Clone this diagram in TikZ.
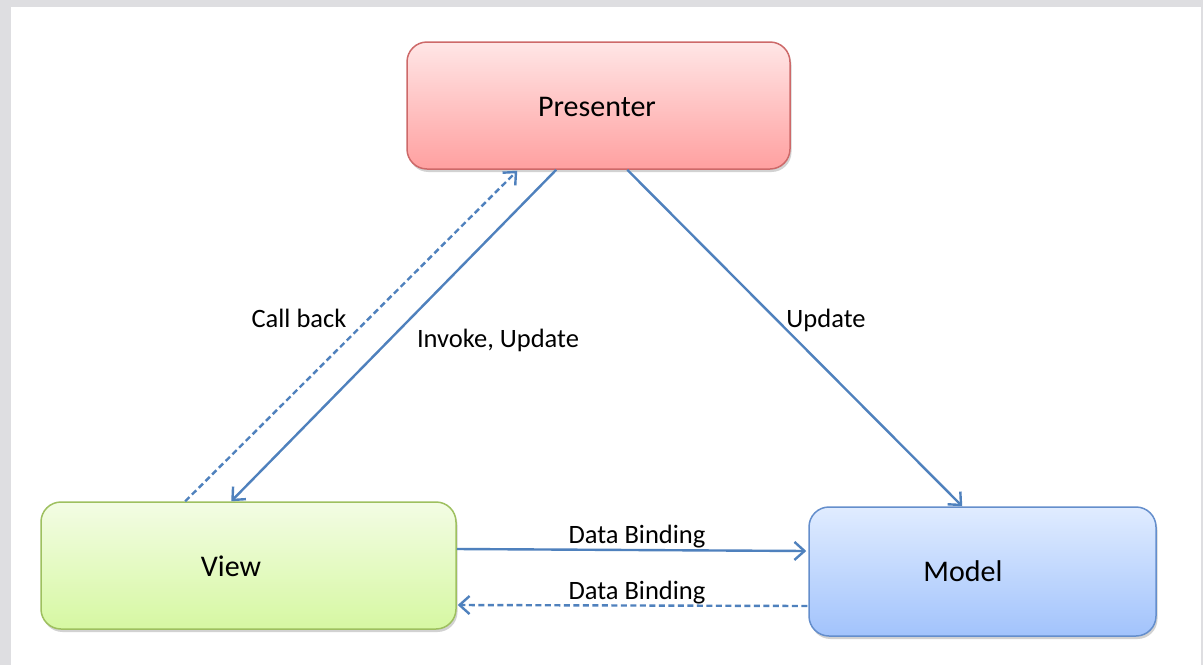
\documentclass[tikz,border=0pt]{standalone}
\usepackage{fontspec}
\setmainfont{Carlito}
\usetikzlibrary{arrows.meta,shadows,calc}
\definecolor{framegray}{RGB}{222,222,225}
\definecolor{arrowblue}{RGB}{79,129,189}
\definecolor{presTop}{RGB}{255,230,230}
\definecolor{presBot}{RGB}{255,160,160}
\definecolor{presLine}{RGB}{205,105,105}
\definecolor{viewTop}{RGB}{243,252,228}
\definecolor{viewBot}{RGB}{214,248,162}
\definecolor{viewLine}{RGB}{158,192,95}
\definecolor{modelTop}{RGB}{224,236,255}
\definecolor{modelBot}{RGB}{162,195,252}
\definecolor{modelLine}{RGB}{100,142,204}
\tikzset{
  box/.style={rounded corners=20pt, line width=1.5pt, inner sep=0pt,
    drop shadow={shadow xshift=1.5pt, shadow yshift=-3pt, opacity=0.25, fill=black!70}},
  boxtext/.style={font=\fontsize{30}{36}\selectfont, anchor=base},
  lbl/.style={font=\fontsize{26.5}{32}\selectfont, anchor=base, inner sep=0pt},
  conn/.style={draw=arrowblue, line width=2.4pt, -{Straight Barb[length=10pt,width=18pt]}},
  dconn/.style={conn, dash pattern=on 6pt off 3.5pt},
}
\begin{document}
\begin{tikzpicture}[x=1pt,y=-1pt]
\useasboundingbox (0,0) rectangle (1203,665);
\fill[framegray] (0,0) rectangle (1203,665);
\fill[white] (11,7) rectangle (1201,665);
% boxes
\node[box, draw=presLine, top color=presTop, bottom color=presBot,
  minimum width=383pt, minimum height=127pt] (P) at (598.5,105.5) {};
\node[box, draw=viewLine, top color=viewTop, bottom color=viewBot,
  minimum width=415pt, minimum height=127pt] (V) at (248.5,565.5) {};
\node[box, draw=modelLine, top color=modelTop, bottom color=modelBot,
  minimum width=347pt, minimum height=129pt] (M) at (982.5,571.5) {};
\node[boxtext] (Pt) at (597,116) {Presenter};
\node[boxtext] (Vt) at (231,576) {View};
\node[boxtext] (Mt) at (963,581) {Model};
% connector end points on the box borders
\coordinate (cbA) at ($(V.north west)+(145,0)$);
\coordinate (cbB) at ($(P.south west)+(111,1)$);
\coordinate (ivA) at ($(P.south west)+(150,0)$);
\coordinate (ivB) at ($(V.north west)+(191,0)$);
\coordinate (upA) at ($(P.south west)+(221,0)$);
\coordinate (upB) at ($(M.north west)+(154,0)$);
\coordinate (dbA) at ($(V.east)+(0,-16.5)$);
\coordinate (dbB) at ($(M.west)+(-2,-20.5)$);
\coordinate (dbC) at ($(M.west)+(-1,34.5)$);
\coordinate (dbD) at ($(V.east)+(1,39.5)$);
% connectors
\draw[dconn] (cbA) -- (cbB);
\draw[conn] (ivA) -- (ivB);
\draw[conn] (upA) -- (upB);
\draw[conn] (dbA) -- (dbB);
\draw[dconn] (dbC) -- (dbD);
% labels
\node[lbl] (l1) at (299,327) {Call back};
\node[lbl] (l2) at (498,347) {Invoke, Update};
\node[lbl] (l3) at (826,327) {Update};
\node[lbl] (l4) at (637,543) {Data Binding};
\node[lbl] (l5) at (637,599) {Data Binding};
\end{tikzpicture}
\end{document}
